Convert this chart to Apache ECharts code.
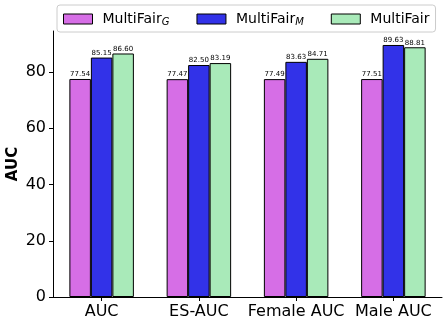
<!DOCTYPE html>
<html>
<head>
<meta charset="utf-8">
<style>
  html, body { margin: 0; padding: 0; background: #fff; }
  #chart { width: 448px; height: 327px; }
</style>
<script src="https://cdn.jsdelivr.net/npm/echarts@6/dist/echarts.min.js"></script>
</head>
<body>
<div id="chart"></div>
<script>
// 类别与数据
var categories = ["AUC", "ES-AUC", "Female AUC", "Male AUC"];
var seriesNames = ["MultiFair_G", "MultiFair_M", "MultiFair"];
var multiFairG = [77.54, 77.47, 77.49, 77.51];
var multiFairM = [85.15, 82.50, 83.63, 89.63];
var multiFair = [86.60, 83.19, 84.71, 88.81];
var yTicks = [0, 20, 40, 60, 80];

var colors = ["#d66ee6", "#3232e8", "#a9eab9"];
var font = "DejaVu Sans";

function makeSeries(name, data, color) {
  return {
    name: name,
    type: "bar",
    data: data,
    barWidth: 21.5,
    barGap: "0%",
    itemStyle: { color: color, borderColor: "#000", borderWidth: 1 },
    label: {
      show: true,
      position: "top",
      distance: 1,
      color: "#000",
      fontFamily: font,
      fontSize: 7,
      formatter: function (p) { return p.value.toFixed(2); }
    }
  };
}

var myChart = echarts.init(document.getElementById("chart"), null, { renderer: "canvas" });
var option = {
  animation: false,
  textStyle: { fontFamily: font },
  grid: { left: 53, right: 6, top: 31, bottom: 30, containLabel: false, outerBoundsMode: "none" },
  legend: {
    left: 57,
    top: 5,
    padding: [6, 6, 5, 6],
    icon: "rect",
    itemWidth: 29,
    itemHeight: 10,
    itemGap: 27,
    backgroundColor: "#fff",
    borderColor: "#cccccc",
    borderWidth: 1,
    borderRadius: 3,
    data: seriesNames,
    itemStyle: { borderColor: "#000", borderWidth: 1 },
    formatter: function (name) {
      var parts = name.split("_");
      if (parts.length > 1) return "{a|" + parts[0] + "}{s|" + parts[1] + "}";
      return "{a|" + name + "}";
    },
    textStyle: {
      padding: [0, 0, 0, 5],
      rich: {
        a: { fontFamily: font, fontSize: 14, color: "#000", lineHeight: 16 },
        s: { fontFamily: font, fontSize: 10, fontStyle: "italic", color: "#000", lineHeight: 16, verticalAlign: "bottom", padding: [6, 0, 0, 0] }
      }
    }
  },
  xAxis: {
    type: "category",
    data: categories,
    axisLine: { show: true, lineStyle: { color: "#000", width: 1 } },
    axisTick: { show: true, alignWithLabel: true, length: 4, lineStyle: { color: "#000" } },
    axisLabel: { color: "#000", fontSize: 16, fontFamily: font, margin: 7, interval: 0 }
  },
  yAxis: {
    type: "value",
    min: 0,
    max: 94.6,
    name: "AUC",
    nameLocation: "middle",
    nameGap: 32,
    nameMoveOverlap: false,
    nameTextStyle: { color: "#000", fontSize: 15, fontWeight: "bold", fontFamily: font },
    splitLine: { show: false },
    axisLine: { show: true, lineStyle: { color: "#000", width: 1 } },
    axisTick: { show: true, length: 4, lineStyle: { color: "#000" }, customValues: yTicks },
    axisLabel: { color: "#000", fontSize: 16, fontFamily: font, margin: 7, customValues: yTicks }
  },
  series: [
    makeSeries(seriesNames[0], multiFairG, colors[0]),
    makeSeries(seriesNames[1], multiFairM, colors[1]),
    makeSeries(seriesNames[2], multiFair, colors[2])
  ]
};
myChart.setOption(option);
</script>
</body>
</html>
